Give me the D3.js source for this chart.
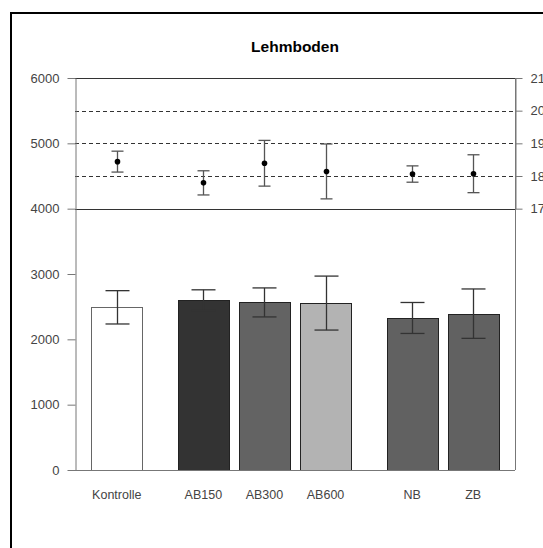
<!DOCTYPE html>
<html>
<head>
<meta charset="utf-8">
<script src="https://cdn.jsdelivr.net/npm/d3@7"></script>
<style>
  html, body { margin: 0; padding: 0; background: #fff; overflow: hidden; }
  svg { display: block; font-family: Arial, "Liberation Sans", sans-serif; }
</style>
</head>
<body>
<div id="chart"></div>
<script>
// ---- data ----
const categories = ["Kontrolle", "AB150", "AB300", "AB600", "NB", "ZB"];
const groups = [0, 1, 1, 1, 2, 2];
const barValues = [2490, 2600, 2565, 2555, 2327, 2393];
const barErrors = [255, 158, 222, 413, 237, 378];
const pointValues = [184.4, 177.9, 183.9, 181.4, 180.6, 180.7];
const pointErrors = [3.2, 3.7, 7.0, 8.4, 2.5, 5.8];
const barColors = ["#ffffff", "#333333", "#636363", "#b3b3b3", "#616161", "#616161"];
const leftTicks = [0, 1000, 2000, 3000, 4000, 5000, 6000];
const rightTicks = [170, 180, 190, 200, 210];
const dashedLevels = [4500, 5000, 5500];
const solidLevels = [4000, 6000];
const title = "Lehmboden";

// ---- layout ----
const W = 543, H = 548;
const plot = { left: 75, right: 515, top: 78, bottom: 470 };
const groupGap = 0.418, outerPad = 0.684;

const svg = d3.select("#chart").append("svg").attr("width", W).attr("height", H);

// outer frame
svg.append("rect").attr("x", 11).attr("y", 13).attr("width", 700).attr("height", 700)
  .attr("fill", "none").attr("stroke", "#000").attr("stroke-width", 2);

const slot = (i) => i + groups[i] * groupGap;
const x = d3.scaleLinear()
  .domain([-outerPad, slot(categories.length - 1) + outerPad])
  .range([plot.left, plot.right]);
const y = d3.scaleLinear().domain([0, 6000]).range([plot.bottom, plot.top]);
const y2 = d3.scaleLinear().domain([170, 210]).range([y(4000), y(6000)]);

const barW = 51, barCap = 12, ptCap = 6;

// title
svg.append("text").attr("x", (plot.left + plot.right) / 2).attr("y", 52)
  .attr("text-anchor", "middle").attr("font-weight", "bold").attr("font-size", 15.5)
  .attr("fill", "#000").text(title);

// dashed reference lines
svg.append("g").selectAll("line").data(dashedLevels).join("line")
  .attr("x1", plot.left).attr("x2", plot.right)
  .attr("y1", d => Math.round(y(d)) + 0.5).attr("y2", d => Math.round(y(d)) + 0.5)
  .attr("stroke", "#333").attr("stroke-dasharray", "4,3");

svg.append("g").selectAll("line").data(solidLevels).join("line")
  .attr("x1", plot.left).attr("x2", plot.right)
  .attr("y1", d => Math.round(y(d)) + 0.5).attr("y2", d => Math.round(y(d)) + 0.5)
  .attr("stroke", "#333");

// bars
svg.append("g").selectAll("rect").data(categories).join("rect")
  .attr("x", (d, i) => Math.round(x(slot(i)) - barW / 2) + 0.5)
  .attr("y", (d, i) => Math.round(y(barValues[i])) + 0.5)
  .attr("width", barW)
  .attr("height", (d, i) => Math.round(y(0)) - Math.round(y(barValues[i])))
  .attr("fill", (d, i) => barColors[i])
  .attr("stroke", (d, i) => i === 0 ? "#666" : "#222")
  .attr("stroke-width", 1);

// bar error bars
const be = svg.append("g").attr("stroke", "#333").attr("stroke-width", 1.3);
categories.forEach((c, i) => {
  const cx = Math.round(x(slot(i))) + 0.5;
  const t = y(barValues[i] + barErrors[i]), b = y(barValues[i] - barErrors[i]);
  be.append("line").attr("x1", cx).attr("x2", cx).attr("y1", t).attr("y2", b);
  be.append("line").attr("x1", cx - barCap).attr("x2", cx + barCap).attr("y1", t).attr("y2", t);
  be.append("line").attr("x1", cx - barCap).attr("x2", cx + barCap).attr("y1", b).attr("y2", b);
});

// point error bars
const pe = svg.append("g").attr("stroke", "#555").attr("stroke-width", 1.3);
categories.forEach((c, i) => {
  const cx = Math.round(x(slot(i))) + 0.5;
  const t = y2(pointValues[i] + pointErrors[i]), b = y2(pointValues[i] - pointErrors[i]);
  pe.append("line").attr("x1", cx).attr("x2", cx).attr("y1", t).attr("y2", b);
  pe.append("line").attr("x1", cx - ptCap).attr("x2", cx + ptCap).attr("y1", t).attr("y2", t);
  pe.append("line").attr("x1", cx - ptCap).attr("x2", cx + ptCap).attr("y1", b).attr("y2", b);
});
svg.append("g").selectAll("circle").data(categories).join("circle")
  .attr("cx", (d, i) => Math.round(x(slot(i))) + 0.5)
  .attr("cy", (d, i) => y2(pointValues[i]))
  .attr("r", 2.8).attr("fill", "#000");

// left axis
const leftAxis = svg.append("g").attr("transform", `translate(${plot.left + 0.5},0)`)
  .call(d3.axisLeft(y).tickValues(leftTicks).tickFormat(d3.format("d"))
    .tickSize(8).tickPadding(8).tickSizeOuter(0));
// right axis
const rightAxis = svg.append("g").attr("transform", `translate(${plot.right + 0.5},0)`)
  .call(d3.axisRight(y2).tickValues(rightTicks).tickFormat(d3.format("d"))
    .tickSize(7).tickPadding(8).tickSizeOuter(0));
// extend right axis line to the bottom
svg.append("line").attr("x1", plot.right + 0.5).attr("x2", plot.right + 0.5)
  .attr("y1", plot.top).attr("y2", plot.bottom).attr("stroke", "#777");

[leftAxis, rightAxis].forEach(a => {
  a.select(".domain").attr("stroke", "#777");
  a.selectAll(".tick line").attr("stroke", "#777");
  a.selectAll(".tick text").attr("font-size", 13).attr("fill", "#444")
    .attr("font-family", "Arial, 'Liberation Sans', sans-serif");
});

// bottom axis line
svg.append("line").attr("x1", plot.left).attr("x2", plot.right)
  .attr("y1", Math.round(y(0)) + 0.5).attr("y2", Math.round(y(0)) + 0.5)
  .attr("stroke", "#777");

// category labels
svg.append("g").selectAll("text").data(categories).join("text")
  .attr("x", (d, i) => x(slot(i)))
  .attr("y", 499)
  .attr("text-anchor", "middle").attr("font-size", 12.5).attr("fill", "#444")
  .text(d => d);
</script>
</body>
</html>
